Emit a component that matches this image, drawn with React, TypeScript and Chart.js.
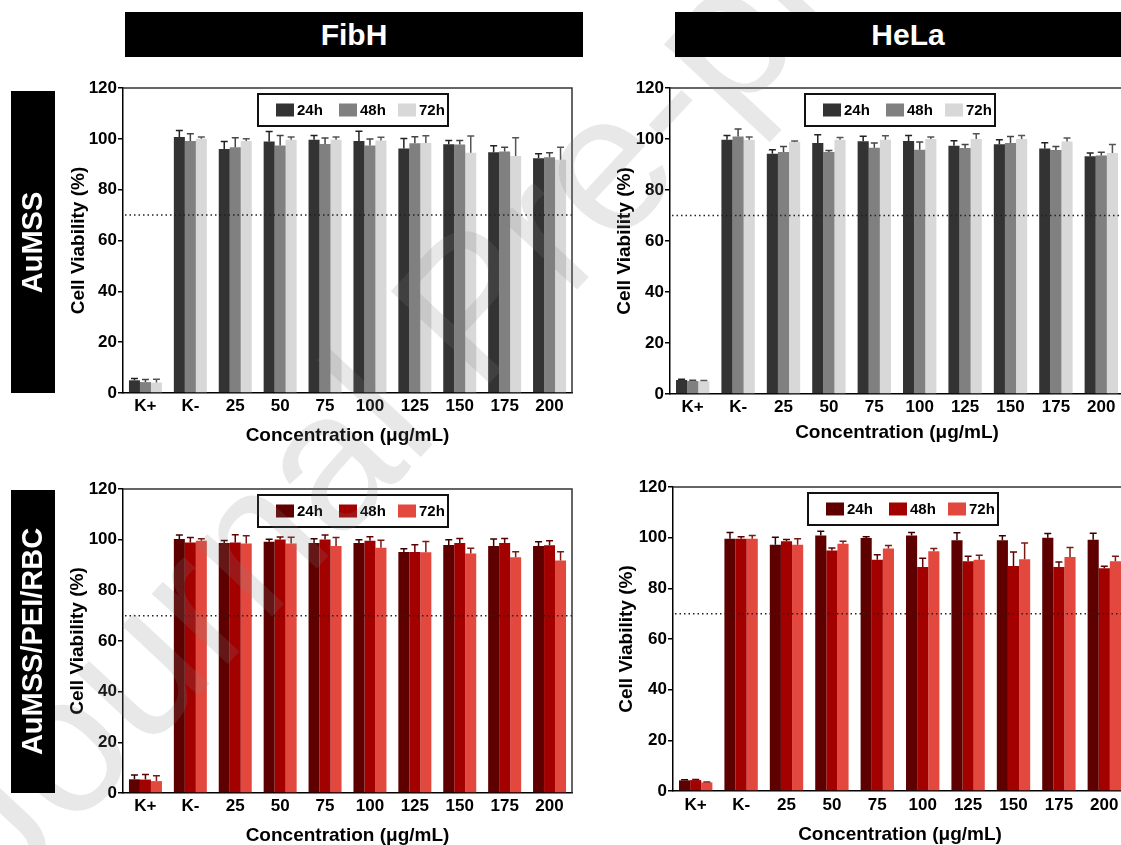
import React, { useEffect, useRef } from 'react';
import { Chart, registerables } from 'chart.js';

Chart.register(...registerables);

const FONT = "'Liberation Sans', Arial, Helvetica, sans-serif";
const NARROW = "'Liberation Sans Narrow', 'Liberation Sans', Arial, sans-serif";

const categories = ['K+', 'K-', '25', '50', '75', '100', '125', '150', '175', '200'];
const seriesLabels = ['24h', '48h', '72h'];
const yTicks = [0, 20, 40, 60, 80, 100, 120];
const threshold = 70;
const yTitle = 'Cell Viability (%)';
const xTitle = 'Concentration (\u03bcg/mL)';
const columnTitles = ['FibH', 'HeLa'];
const rowTitles = ['AuMSS', 'AuMSS/PEI/RBC'];
const watermark = 'Journal Pre-proof';

const grayColors = ['#333333', '#808080', '#d8d8d8'];
const grayErrColors = ['#222222', '#444444', '#555555'];
const redColors = ['#5e0000', '#a30000', '#e2483e'];
const redErrColors = ['#3a0000', '#600000', '#7a1a15'];

// FibH - AuMSS
const fibhAu24 = [5.0, 100.7, 96.0, 99.0, 99.6, 99.1, 96.2, 97.9, 94.7, 92.4];
const fibhAu24sd = [0.7, 2.6, 3.0, 3.9, 1.7, 3.9, 3.9, 1.4, 2.6, 1.7];
const fibhAu48 = [4.3, 99.1, 96.7, 97.4, 98.0, 97.4, 98.3, 97.8, 95.0, 92.8];
const fibhAu48sd = [1.0, 2.9, 3.7, 3.9, 2.3, 2.5, 2.5, 1.5, 1.7, 1.7];
const fibhAu72 = [4.1, 100.0, 99.1, 99.6, 99.6, 99.3, 98.4, 94.5, 93.2, 91.8];
const fibhAu72sd = [1.3, 0.7, 0.9, 1.1, 1.1, 1.3, 2.8, 6.6, 7.2, 4.9];

// HeLa - AuMSS
const helaAu24 = [5.5, 99.7, 94.2, 98.4, 99.1, 99.2, 97.4, 97.9, 96.3, 93.2];
const helaAu24sd = [0.3, 1.7, 1.6, 3.3, 2.0, 2.2, 1.9, 1.8, 2.2, 1.3];
const helaAu48 = [5.1, 101.0, 94.9, 94.9, 96.6, 95.8, 96.5, 98.4, 95.7, 93.5];
const helaAu48sd = [0.3, 2.9, 2.2, 0.6, 1.8, 3.0, 1.3, 2.6, 1.4, 1.3];
const helaAu72 = [5.0, 99.7, 98.8, 99.7, 99.7, 100.0, 100.0, 100.0, 99.0, 94.5];
const helaAu72sd = [0.3, 1.1, 0.4, 0.9, 1.6, 0.8, 2.1, 1.4, 1.4, 3.3];

// FibH - AuMSS/PEI/RBC
const fibhRbc24 = [5.4, 100.3, 98.7, 99.2, 98.7, 98.7, 95.1, 97.9, 97.5, 97.5];
const fibhRbc24sd = [1.7, 1.5, 1.0, 1.0, 1.7, 1.3, 1.3, 2.1, 2.8, 1.7];
const fibhRbc48 = [5.3, 98.9, 98.9, 100.1, 100.1, 99.6, 95.1, 98.7, 98.7, 97.8];
const fibhRbc48sd = [2.0, 2.0, 3.0, 1.0, 1.7, 1.6, 2.9, 1.8, 1.8, 1.8];
const fibhRbc72 = [4.7, 99.6, 98.5, 98.5, 97.5, 96.8, 95.0, 94.5, 93.1, 91.8];
const fibhRbc72sd = [2.1, 0.8, 3.0, 2.5, 3.4, 3.0, 4.3, 2.1, 2.1, 3.4];

// HeLa - AuMSS/PEI/RBC
const helaRbc24 = [4.2, 99.6, 97.2, 100.9, 99.9, 100.9, 99.0, 99.0, 100.0, 99.2];
const helaRbc24sd = [0.2, 2.4, 3.0, 1.6, 0.5, 1.1, 2.9, 1.8, 1.6, 2.5];
const helaRbc48 = [4.3, 99.6, 98.6, 94.9, 91.3, 88.4, 90.7, 88.8, 88.4, 87.9];
const helaRbc48sd = [0.2, 0.8, 0.7, 1.0, 2.0, 3.5, 2.0, 5.5, 2.0, 0.8];
const helaRbc72 = [3.4, 99.6, 97.2, 97.6, 95.7, 94.6, 91.3, 91.5, 92.4, 90.7];
const helaRbc72sd = [0.2, 1.3, 2.4, 1.0, 1.2, 1.1, 1.8, 6.4, 3.7, 2.0];

type PanelCfg = {
  area: [number, number, number, number]; // chart area left, top, right, bottom (page px)
  yTitleX: number;
  xTickY: number;
  xTitleY: number;
  colors: string[];
  errColors: string[];
  means: number[][];
  sds: number[][];
};

const panels: PanelCfg[] = [
  {
    area: [123, 88, 572, 393], yTitleX: 79, xTickY: 406, xTitleY: 436,
    colors: grayColors, errColors: grayErrColors,
    means: [fibhAu24, fibhAu48, fibhAu72], sds: [fibhAu24sd, fibhAu48sd, fibhAu72sd],
  },
  {
    area: [670, 88, 1124, 394], yTitleX: 625, xTickY: 407, xTitleY: 433,
    colors: grayColors, errColors: grayErrColors,
    means: [helaAu24, helaAu48, helaAu72], sds: [helaAu24sd, helaAu48sd, helaAu72sd],
  },
  {
    area: [123, 489, 572, 793], yTitleX: 78, xTickY: 806, xTitleY: 836,
    colors: redColors, errColors: redErrColors,
    means: [fibhRbc24, fibhRbc48, fibhRbc72], sds: [fibhRbc24sd, fibhRbc48sd, fibhRbc72sd],
  },
  {
    area: [673, 487, 1127, 791], yTitleX: 627, xTickY: 805, xTitleY: 835,
    colors: redColors, errColors: redErrColors,
    means: [helaRbc24, helaRbc48, helaRbc72], sds: [helaRbc24sd, helaRbc48sd, helaRbc72sd],
  },
];

const TICK_SIZE = 17;
const TITLE_SIZE = 19;

function Panel({ cfg }: { cfg: PanelCfg }) {
  const ref = useRef<HTMLCanvasElement | null>(null);
  const [L, T, R, B] = cfg.area;
  const cl = L - 68;
  const ct = T - 16;
  const cr = R + 14;
  const cb = cfg.xTitleY + 14;
  const W = cr - cl;
  const H = cb - ct;

  useEffect(() => {
    if (!ref.current) return;
    const yAxisW = L - cl;
    const xAxisH = cb - B;
    const tickPad = cfg.xTickY - B - (TICK_SIZE * 1.2) / 2;
    const xTitlePad = cb - cfg.xTitleY - (TITLE_SIZE * 1.2) / 2;
    const yTitlePad = cfg.yTitleX - cl - (TITLE_SIZE * 1.2) / 2;

    const decor = {
      id: 'decor',
      afterDatasetsDraw(chart: any) {
        const { ctx, chartArea: a, scales } = chart;
        const y = scales.y;
        // error bars (upper whisker)
        chart.data.datasets.forEach((ds: any, i: number) => {
          const meta = chart.getDatasetMeta(i);
          meta.data.forEach((bar: any, j: number) => {
            const v = ds.data[j];
            const sd = cfg.sds[i][j];
            const y0 = y.getPixelForValue(v);
            const y1 = y.getPixelForValue(v + sd);
            ctx.save();
            ctx.strokeStyle = cfg.errColors[i];
            ctx.lineWidth = 1.5;
            ctx.beginPath();
            ctx.moveTo(bar.x, y0);
            ctx.lineTo(bar.x, y1);
            ctx.moveTo(bar.x - 3.5, y1);
            ctx.lineTo(bar.x + 3.5, y1);
            ctx.stroke();
            ctx.restore();
          });
        });
        // dotted threshold line
        const yt = y.getPixelForValue(threshold);
        ctx.save();
        ctx.strokeStyle = '#222';
        ctx.lineWidth = 1.5;
        ctx.setLineDash([1.5, 3]);
        ctx.beginPath();
        ctx.moveTo(a.left + 2, yt);
        ctx.lineTo(a.right, yt);
        ctx.stroke();
        ctx.restore();
        // frame top/right
        ctx.save();
        ctx.strokeStyle = '#333';
        ctx.lineWidth = 1.5;
        ctx.beginPath();
        ctx.moveTo(a.left, a.top);
        ctx.lineTo(a.right, a.top);
        ctx.lineTo(a.right, a.bottom);
        ctx.stroke();
        ctx.restore();
        // legend box
        const bx = a.left + 135;
        const by = a.top + 6;
        const bw = 190;
        const bh = 32;
        ctx.save();
        ctx.fillStyle = '#fff';
        ctx.fillRect(bx, by, bw, bh);
        ctx.strokeStyle = '#111';
        ctx.lineWidth = 2;
        ctx.strokeRect(bx, by, bw, bh);
        const offs = [18, 81, 140];
        ctx.font = `bold 15px ${FONT}`;
        ctx.textBaseline = 'middle';
        ctx.textAlign = 'left';
        seriesLabels.forEach((lab, i) => {
          ctx.fillStyle = cfg.colors[i];
          ctx.fillRect(bx + offs[i], by + bh / 2 - 6.5, 18, 13);
          ctx.fillStyle = '#000';
          ctx.fillText(lab, bx + offs[i] + 21, by + bh / 2 + 1);
        });
        ctx.restore();
      },
    };

    const chart = new Chart(ref.current, {
      type: 'bar',
      data: {
        labels: categories,
        datasets: seriesLabels.map((lab, i) => ({
          label: lab,
          data: cfg.means[i],
          backgroundColor: cfg.colors[i],
          borderWidth: 0,
          barPercentage: 1.0,
          categoryPercentage: 0.735,
        })),
      },
      options: {
        animation: false,
        responsive: false,
        devicePixelRatio: 1,
        layout: { padding: { left: 0, top: T - ct, right: cr - R, bottom: 0 } },
        plugins: { legend: { display: false }, tooltip: { enabled: false } },
        scales: {
          x: {
            offset: true,
            grid: { display: false, drawTicks: false },
            border: { display: true, color: '#000', width: 1.5 },
            ticks: {
              color: '#000',
              font: { family: FONT, size: TICK_SIZE, weight: 'bold' },
              padding: tickPad,
              autoSkip: false,
              maxRotation: 0,
              minRotation: 0,
            },
            title: {
              display: true,
              text: xTitle,
              color: '#000',
              font: { family: FONT, size: TITLE_SIZE, weight: 'bold' },
              padding: { top: 0, bottom: xTitlePad },
            },
            afterFit: (s: any) => { s.height = xAxisH; },
          },
          y: {
            min: 0,
            max: 120,
            grid: { display: true, drawOnChartArea: false, drawTicks: true, tickLength: 5, color: '#000', lineWidth: 1.5 },
            border: { display: true, color: '#000', width: 1.5 },
            ticks: {
              color: '#000',
              font: { family: FONT, size: TICK_SIZE, weight: 'bold' },
              padding: 1,
            },
            afterBuildTicks: (s: any) => { s.ticks = yTicks.map((v) => ({ value: v })); },
            title: {
              display: true,
              text: yTitle,
              color: '#000',
              font: { family: FONT, size: TITLE_SIZE, weight: 'bold' },
              padding: { top: yTitlePad, bottom: 0 },
            },
            afterFit: (s: any) => { s.width = yAxisW; },
          },
        },
      },
      plugins: [decor],
    } as any);
    return () => chart.destroy();
  }, []);

  return (
    <div style={{ position: 'absolute', left: cl, top: ct, width: W, height: H }}>
      <canvas ref={ref} width={W} height={H} style={{ width: W, height: H, display: 'block' }} />
    </div>
  );
}

const barText: React.CSSProperties = {
  position: 'absolute',
  background: '#000',
  color: '#fff',
  fontFamily: FONT,
  fontWeight: 'bold',
  display: 'flex',
  alignItems: 'center',
  justifyContent: 'center',
  whiteSpace: 'nowrap',
};

export default function App() {
  return (
    <div style={{ position: 'absolute', left: 0, top: 0, width: 1121, height: 845, overflow: 'hidden', background: '#fff' }}>
      {panels.map((p, i) => (
        <Panel key={i} cfg={p} />
      ))}
      <svg width={1121} height={845} style={{ position: 'absolute', left: 0, top: 0, pointerEvents: 'none' }}>
        <text
          x={3}
          y={905}
          transform="rotate(-47 3 905)"
          fontFamily={FONT}
          fontSize={196}
          fill="rgba(128,128,128,0.18)"
        >
          {watermark}
        </text>
      </svg>
      <div style={{ ...barText, left: 125, top: 12, width: 458, height: 45, fontSize: 30, fontFamily: NARROW }}>{columnTitles[0]}</div>
      <div style={{ ...barText, left: 675, top: 12, width: 466, height: 45, fontSize: 30, fontFamily: NARROW }}>{columnTitles[1]}</div>
      <div style={{ ...barText, left: 11, top: 91, width: 44, height: 302 }}>
        <span style={{ transform: 'rotate(-90deg)', fontSize: 29, display: 'inline-block' }}>{rowTitles[0]}</span>
      </div>
      <div style={{ ...barText, left: 11, top: 490, width: 44, height: 303 }}>
        <span style={{ transform: 'rotate(-90deg)', fontSize: 29, display: 'inline-block' }}>{rowTitles[1]}</span>
      </div>
    </div>
  );
}
